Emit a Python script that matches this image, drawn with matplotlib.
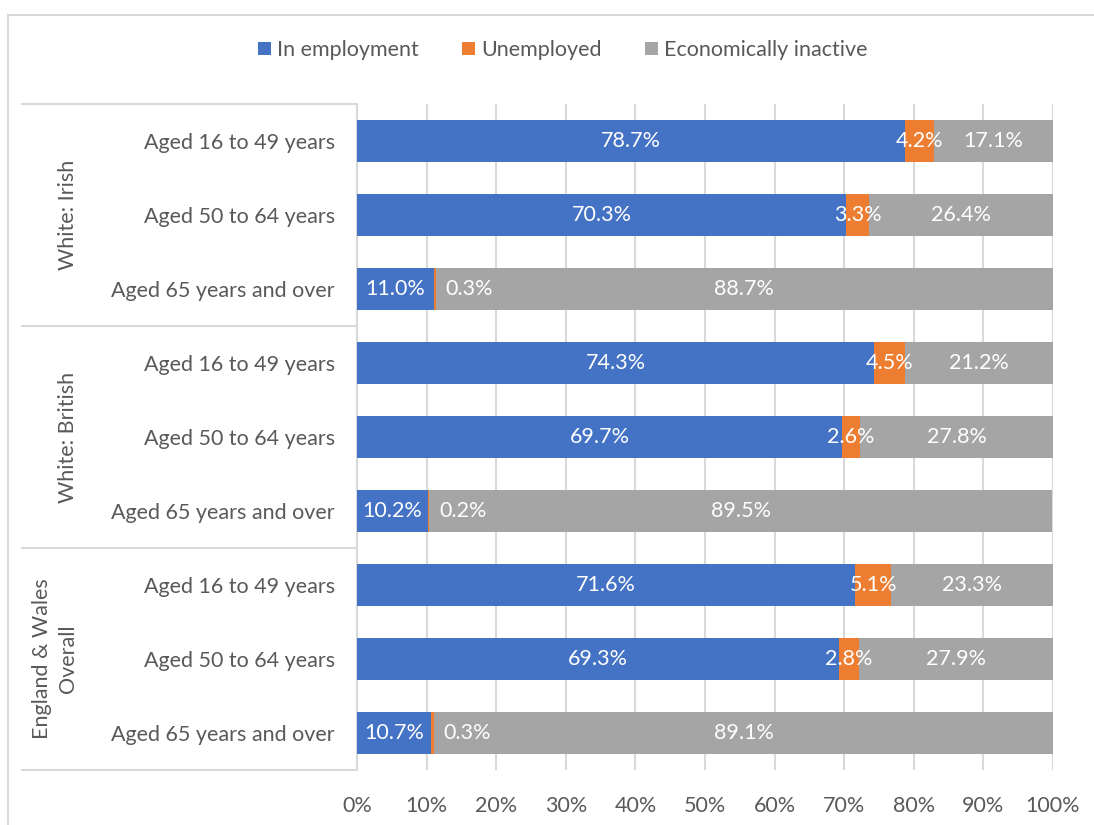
import numpy as np
import matplotlib.pyplot as plt
from matplotlib.patches import Patch
from matplotlib.lines import Line2D
import matplotlib.transforms as mtransforms

plt.rcParams["font.family"] = ["Lato", "DejaVu Sans"]

groups = ["White: Irish", "White: British", "England & Wales\nOverall"]
ages = ["Aged 16 to 49 years", "Aged 50 to 64 years", "Aged 65 years and over"]
series = ["In employment", "Unemployed", "Economically inactive"]

employed = [78.7, 70.3, 11.0, 74.3, 69.7, 10.2, 71.6, 69.3, 10.7]
unemployed = [4.2, 3.3, 0.3, 4.5, 2.6, 0.2, 5.1, 2.8, 0.3]
inactive = [17.1, 26.4, 88.7, 21.2, 27.8, 89.5, 23.3, 27.9, 89.1]

colors = ["#4472C4", "#ED7D31", "#A5A5A5"]
text_grey = "#595959"
line_grey = "#D9D9D9"
fs = 15.5

W, H = 1094, 825
fig = plt.figure(figsize=(W / 100, H / 100), dpi=100)
ax = fig.add_axes([357 / W, 55 / H, 696 / W, 666 / H])

n = len(employed)
y = np.arange(n)
left = np.zeros(n)
for vals, c in zip([employed, unemployed, inactive], colors):
    vals = np.array(vals)
    ax.barh(y, vals, left=left, height=0.57, color=c, zorder=3)
    for yi, l, v in zip(y, left, vals):
        xc = l + v / 2
        if v < 1:
            xc += 5  # nudge tiny segments' labels clear of the bar edge
        ax.text(xc, yi, f"{v:.1f}%", ha="center", va="center",
                color="white", fontsize=fs, zorder=4)
    left += vals

ax.set_xlim(0, 100)
ax.set_ylim(n - 0.5, -0.5)
ax.set_xticks(np.arange(0, 101, 10))
ax.set_xticklabels([f"{t}%" for t in range(0, 101, 10)])
ax.set_yticks(y)
ax.set_yticklabels(ages * len(groups))
ax.tick_params(axis="both", length=0, labelsize=fs, colors=text_grey)
ax.tick_params(axis="y", pad=16)
ax.tick_params(axis="x", pad=19)
ax.grid(axis="x", color=line_grey, linewidth=1.5, zorder=0)
for s in ["top", "right", "bottom"]:
    ax.spines[s].set_visible(False)
ax.spines["left"].set_color(line_grey)
ax.spines["left"].set_linewidth(1.5)

# group separators and rotated group labels
trans = mtransforms.blended_transform_factory(ax.transAxes, ax.transData)
x_sep = (22 - 357) / 696
for k in range(len(groups) + 1):
    ax.plot([x_sep, 0], [3 * k - 0.5] * 2, transform=trans, color=line_grey,
            linewidth=1.5, clip_on=False)
for k, g in enumerate(groups):
    ax.text((78 - 357) / 696, 3 * k + 1, g, transform=trans, rotation=90,
            ha="right", va="center", fontsize=fs, color=text_grey,
            linespacing=1.4, multialignment="center")

# chart frame (left and top edges)
fig.add_artist(Line2D([8 / W, 8 / W], [0, 1 - 15 / H], color=line_grey, lw=1.5))
fig.add_artist(Line2D([8 / W, 1], [1 - 15 / H] * 2, color=line_grey, lw=1.5))

handles = [Patch(facecolor=c, label=s) for c, s in zip(colors, series)]
fig.legend(handles=handles, loc="center", bbox_to_anchor=(563 / W, 1 - 50 / H),
           ncol=3, frameon=False, fontsize=fs, handlelength=0.6,
           handleheight=0.6, handletextpad=0.3, columnspacing=2.0,
           labelcolor=text_grey)

fig.savefig("out.png", dpi=100)
